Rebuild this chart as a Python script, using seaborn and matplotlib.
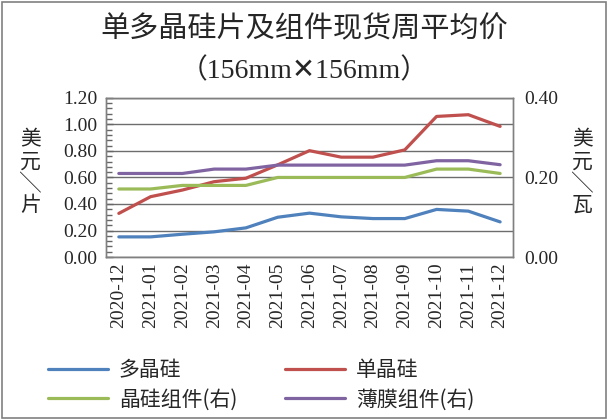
import matplotlib
matplotlib.use("Agg")
import matplotlib.pyplot as plt
import matplotlib.patches as patches
from matplotlib.ticker import MultipleLocator
import pandas as pd
import seaborn as sns

# 数据
months = ["2020-12", "2021-01", "2021-02", "2021-03", "2021-04", "2021-05", "2021-06",
          "2021-07", "2021-08", "2021-09", "2021-10", "2021-11", "2021-12"]
poly = [0.152, 0.152, 0.172, 0.190, 0.220, 0.300, 0.331, 0.303, 0.290, 0.290, 0.359, 0.346, 0.265]
mono = [0.329, 0.455, 0.505, 0.568, 0.594, 0.695, 0.802, 0.753, 0.753, 0.808, 1.060, 1.073, 0.985]
cSi_module = [0.171, 0.171, 0.180, 0.180, 0.180, 0.200, 0.200, 0.200, 0.200, 0.200, 0.221, 0.221, 0.210]
thin_film = [0.210, 0.210, 0.210, 0.221, 0.221, 0.231, 0.231, 0.231, 0.231, 0.231, 0.242, 0.242, 0.232]

left_names = ["多晶硅", "单晶硅"]
right_names = ["晶硅组件(右)", "薄膜组件(右)"]
colors = {"多晶硅": "#4F81BD", "单晶硅": "#C0504D",
          "晶硅组件(右)": "#9BBB59", "薄膜组件(右)": "#8064A2"}

df = pd.DataFrame({"month": months, "多晶硅": poly, "单晶硅": mono,
                   "晶硅组件(右)": cSi_module, "薄膜组件(右)": thin_film})

sns.set_theme(style="ticks")
plt.rcParams["font.family"] = ["Liberation Serif", "Noto Sans CJK SC"]
plt.rcParams["axes.unicode_minus"] = False
cjk = ["Noto Sans CJK SC", "DejaVu Sans"]

fig = plt.figure(figsize=(6.08, 4.2), dpi=100)
ax = fig.add_axes([0.174, 0.388, 0.67, 0.379])
ax2 = ax.twinx()

handles = {}
for name in left_names:
    sns.lineplot(data=df, x="month", y=name, ax=ax, color=colors[name], linewidth=2.3,
                 sort=False, label=name, legend=False)
    handles[name] = ax.lines[-1]
for name in right_names:
    sns.lineplot(data=df, x="month", y=name, ax=ax2, color=colors[name], linewidth=2.3,
                 sort=False, label=name, legend=False)
    handles[name] = ax2.lines[-1]

ax.set_xlim(-0.41, len(months) - 0.59)
ax.set_ylim(0, 1.2)
ax.yaxis.set_major_locator(MultipleLocator(0.2))
ax.yaxis.set_minor_locator(MultipleLocator(0.04))
ax.set_yticklabels([f"{v:.2f}" for v in ax.get_yticks()])
ax.tick_params(axis="y", which="major", direction="in", length=5, width=1, color="#666666",
               labelsize=14, pad=6, left=True)
ax.tick_params(axis="y", which="minor", direction="in", length=4, width=1, color="#666666", left=True)
ax.tick_params(axis="x", labelrotation=90, labelsize=14, length=0, pad=4)
ax.grid(axis="y", color="#6d6d6d", linewidth=1.0)
ax.set_xlabel("")
ax.set_ylabel("")

ax2.set_ylim(0, 0.4)
ax2.set_yticks([0, 0.2, 0.4])
ax2.set_yticklabels(["0.00", "0.20", "0.40"])
ax2.tick_params(axis="y", labelsize=14, length=0, pad=8)
ax2.set_ylabel("")
ax2.grid(False)

for a in (ax, ax2):
    for s in a.spines.values():
        s.set_visible(True)
        s.set_color("#808080")
        s.set_linewidth(1.0)

# 单位
fig.text(0.05, 0.59, "美\n元\n╲\n片", ha="center", va="center", fontsize=15,
         linespacing=1.0, family=cjk)
fig.text(0.958, 0.59, "美\n元\n╲\n瓦", ha="center", va="center", fontsize=15,
         linespacing=1.0, family=cjk)

# 标题
fig.text(0.5, 0.93, "单多晶硅片及组件现货周平均价", ha="center", va="center", fontsize=21,
         family=cjk)
fig.text(0.5, 0.83, "（156mm\u2715156mm）", ha="center", va="center", fontsize=20,
         family=["Liberation Serif", "DejaVu Sans", "Noto Sans CJK SC"])

order = ["多晶硅", "晶硅组件(右)", "单晶硅", "薄膜组件(右)"]
fig.legend([handles[n] for n in order], order, loc="upper left", bbox_to_anchor=(0.065, 0.165),
           ncol=2, frameon=False, handlelength=2.9, columnspacing=2.3,
           labelspacing=0.35, handletextpad=0.5, borderaxespad=0.0,
           prop={"family": ["Noto Sans CJK SC", "DejaVu Sans"], "size": 15})

fig.patches.append(patches.Rectangle((0.004, 0.004), 0.992, 0.992, transform=fig.transFigure,
                                     fill=False, edgecolor="#808080", linewidth=1.2))

fig.savefig("out.png", dpi=100)
